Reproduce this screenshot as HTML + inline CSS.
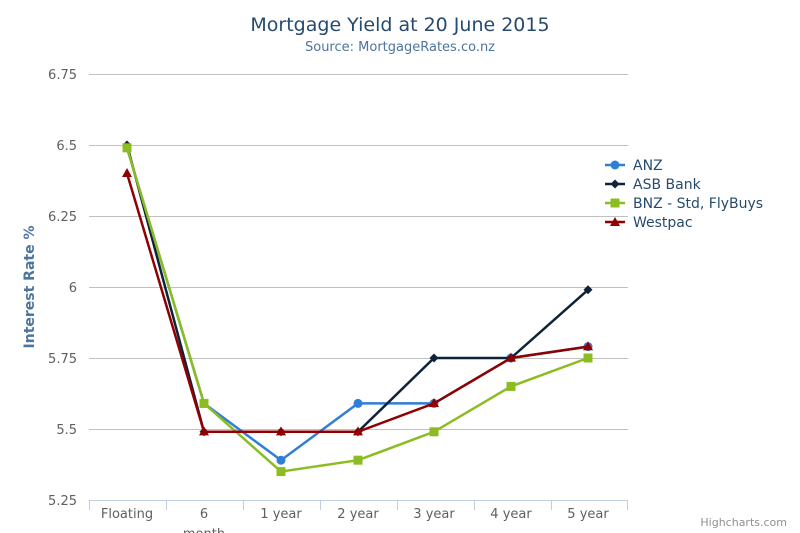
<!DOCTYPE html>
<html><head><meta charset="utf-8"><style>body{margin:0;background:#fff}svg{display:block}text{font-family:"DejaVu Sans","Liberation Sans",sans-serif}</style></head><body>
<svg width="800" height="533" viewBox="0 0 800 533">
<text x="400" y="31" text-anchor="middle" font-size="19" fill="#274b6d">Mortgage Yield at 20 June 2015</text>
<text x="400" y="51" text-anchor="middle" font-size="13" fill="#4d759e">Source: MortgageRates.co.nz</text>
<g stroke="#c0c0c0" stroke-width="1">
<line x1="89" x2="628" y1="74.5" y2="74.5"/><line x1="89" x2="628" y1="145.5" y2="145.5"/><line x1="89" x2="628" y1="216.5" y2="216.5"/><line x1="89" x2="628" y1="287.5" y2="287.5"/><line x1="89" x2="628" y1="358.5" y2="358.5"/><line x1="89" x2="628" y1="429.5" y2="429.5"/>
<line x1="89" x2="628" y1="500.5" y2="500.5" stroke="#c0d0e0"/>
</g>
<g stroke="#c0d0e0"><line x1="89.5" x2="89.5" y1="500" y2="510"/><line x1="166.5" x2="166.5" y1="500" y2="510"/><line x1="243.5" x2="243.5" y1="500" y2="510"/><line x1="320.5" x2="320.5" y1="500" y2="510"/><line x1="397.5" x2="397.5" y1="500" y2="510"/><line x1="474.5" x2="474.5" y1="500" y2="510"/><line x1="551.5" x2="551.5" y1="500" y2="510"/><line x1="627.5" x2="627.5" y1="500" y2="510"/></g>
<g font-size="13" fill="#606060" text-anchor="end">
<text x="77" y="79">6.75</text><text x="77" y="150">6.5</text><text x="77" y="221">6.25</text><text x="77" y="292">6</text><text x="77" y="363">5.75</text><text x="77" y="434">5.5</text><text x="77" y="505">5.25</text></g>
<g font-size="13" fill="#606060" text-anchor="middle">
<text x="127" y="518">Floating</text><text x="204" y="518">6</text><text x="204" y="538">month</text><text x="281" y="518">1 year</text><text x="358" y="518">2 year</text><text x="434" y="518">3 year</text><text x="511" y="518">4 year</text><text x="588" y="518">5 year</text></g>
<text transform="translate(34,287) rotate(-90)" text-anchor="middle" font-size="14" font-weight="bold" fill="#4d759e">Interest Rate %</text>
<polyline fill="none" stroke="#2f7ed8" stroke-width="2.5" points="127,147.8 204,403.4 281,460.2 358,403.4 434,403.4 511,358 588,346.6"/>
<g fill="#2f7ed8"><circle cx="127" cy="147.8" r="4.5"/><circle cx="204" cy="403.4" r="4.5"/><circle cx="281" cy="460.2" r="4.5"/><circle cx="358" cy="403.4" r="4.5"/><circle cx="434" cy="403.4" r="4.5"/><circle cx="511" cy="358" r="4.5"/><circle cx="588" cy="346.6" r="4.5"/></g>
<polyline fill="none" stroke="#0d233a" stroke-width="2.5" points="127,145 204,431.8 281,431.8 358,431.8 434,358 511,358 588,289.8"/>
<g fill="#0d233a"><path d="M127 140.5l4.5 4.5-4.5 4.5-4.5-4.5z"/><path d="M204 427.3l4.5 4.5-4.5 4.5-4.5-4.5z"/><path d="M281 427.3l4.5 4.5-4.5 4.5-4.5-4.5z"/><path d="M358 427.3l4.5 4.5-4.5 4.5-4.5-4.5z"/><path d="M434 353.5l4.5 4.5-4.5 4.5-4.5-4.5z"/><path d="M511 353.5l4.5 4.5-4.5 4.5-4.5-4.5z"/><path d="M588 285.3l4.5 4.5-4.5 4.5-4.5-4.5z"/></g>
<polyline fill="none" stroke="#8bbc21" stroke-width="2.5" points="127,147.8 204,403.4 281,471.6 358,460.2 434,431.8 511,386.4 588,358"/>
<g fill="#8bbc21"><rect x="122.5" y="143.3" width="9" height="9"/><rect x="199.5" y="398.9" width="9" height="9"/><rect x="276.5" y="467.1" width="9" height="9"/><rect x="353.5" y="455.7" width="9" height="9"/><rect x="429.5" y="427.3" width="9" height="9"/><rect x="506.5" y="381.9" width="9" height="9"/><rect x="583.5" y="353.5" width="9" height="9"/></g>
<polyline fill="none" stroke="#910000" stroke-width="2.5" points="127,173.4 204,431.8 281,431.8 358,431.8 434,403.4 511,358 588,346.6"/>
<g fill="#910000"><path d="M127 168l5 9h-10z"/><path d="M204 426.4l5 9h-10z"/><path d="M281 426.4l5 9h-10z"/><path d="M358 426.4l5 9h-10z"/><path d="M434 398l5 9h-10z"/><path d="M511 352.6l5 9h-10z"/><path d="M588 341.2l5 9h-10z"/></g>
<g font-size="14" fill="#274b6d">
<line x1="605" x2="625" y1="165" y2="165" stroke="#2f7ed8" stroke-width="2.5"/><circle cx="615" cy="165" r="4.5" fill="#2f7ed8"/><text x="633" y="170">ANZ</text>
<line x1="605" x2="625" y1="184" y2="184" stroke="#0d233a" stroke-width="2.5"/><path d="M615 179.5l4.5 4.5-4.5 4.5-4.5-4.5z" fill="#0d233a"/><text x="633" y="189">ASB Bank</text>
<line x1="605" x2="625" y1="203" y2="203" stroke="#8bbc21" stroke-width="2.5"/><rect x="610.5" y="198.5" width="9" height="9" fill="#8bbc21"/><text x="633" y="208">BNZ - Std, FlyBuys</text>
<line x1="605" x2="625" y1="222" y2="222" stroke="#910000" stroke-width="2.5"/><path d="M615 217l5 9h-10z" fill="#910000"/><text x="633" y="227">Westpac</text>
</g>
<text x="787" y="526" text-anchor="end" font-size="11" fill="#909090">Highcharts.com</text>
</svg>
</body></html>
